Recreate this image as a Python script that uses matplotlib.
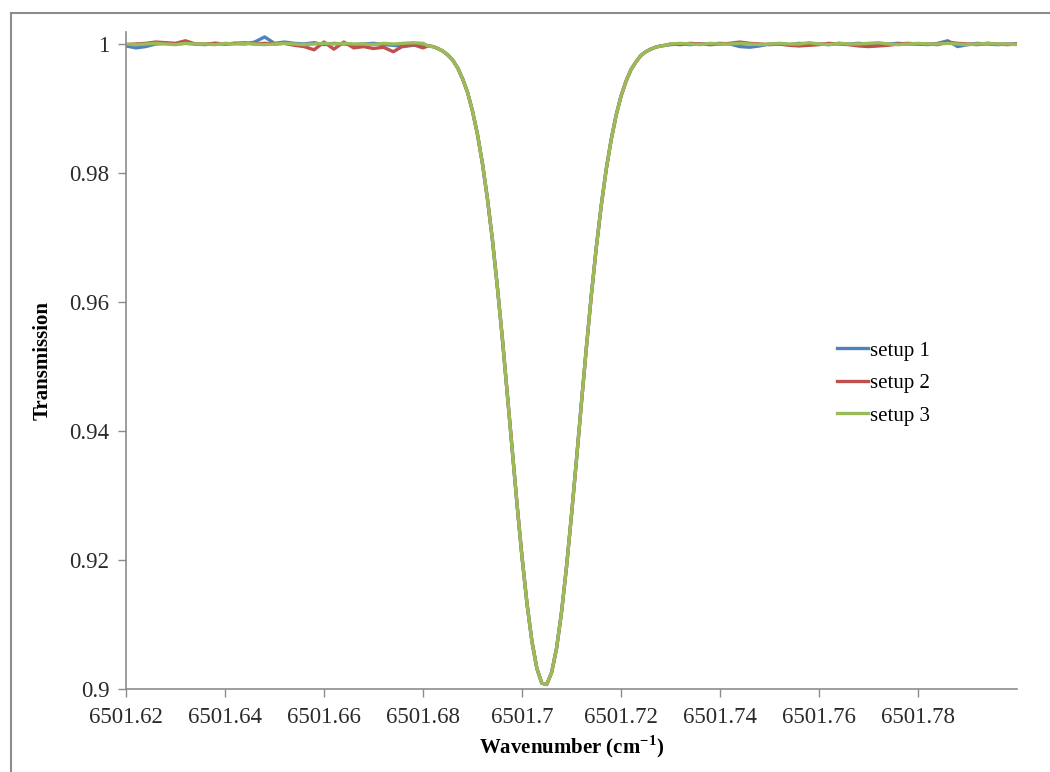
import matplotlib
matplotlib.use("Agg")
import matplotlib.pyplot as plt
from matplotlib.lines import Line2D

plt.rcParams['font.family'] = ['Liberation Serif', 'DejaVu Serif']
plt.rcParams['mathtext.fontset'] = 'custom'
plt.rcParams['mathtext.rm'] = 'Liberation Serif'
plt.rcParams['mathtext.bf'] = 'Liberation Serif:bold'

# wavenumber grids (cm^-1)
left_x = [6501.620, 6501.622, 6501.624, 6501.626, 6501.628, 6501.630, 6501.632, 6501.634,
          6501.636, 6501.638, 6501.640, 6501.642, 6501.644, 6501.646, 6501.648, 6501.650,
          6501.652, 6501.654, 6501.656, 6501.658, 6501.660, 6501.662, 6501.664, 6501.666,
          6501.668, 6501.670, 6501.672, 6501.674, 6501.676, 6501.678, 6501.680]
dip_x = [6501.681, 6501.682, 6501.683, 6501.684, 6501.685, 6501.686, 6501.687, 6501.688,
         6501.689, 6501.690, 6501.691, 6501.692, 6501.693, 6501.694, 6501.695, 6501.696,
         6501.697, 6501.698, 6501.699, 6501.700, 6501.701, 6501.702, 6501.703, 6501.704,
         6501.705, 6501.706, 6501.707, 6501.708, 6501.709, 6501.710, 6501.711, 6501.712,
         6501.713, 6501.714, 6501.715, 6501.716, 6501.717, 6501.718, 6501.719, 6501.720,
         6501.721, 6501.722, 6501.723, 6501.724, 6501.725, 6501.726, 6501.727, 6501.728,
         6501.729]
right_x = [6501.730, 6501.732, 6501.734, 6501.736, 6501.738, 6501.740, 6501.742, 6501.744,
           6501.746, 6501.748, 6501.750, 6501.752, 6501.754, 6501.756, 6501.758, 6501.760,
           6501.762, 6501.764, 6501.766, 6501.768, 6501.770, 6501.772, 6501.774, 6501.776,
           6501.778, 6501.780, 6501.782, 6501.784, 6501.786, 6501.788, 6501.790, 6501.792,
           6501.794, 6501.796, 6501.798, 6501.800]

# absorption line (all three setups overlap here)
dip_t = [0.9997, 0.9996, 0.9993, 0.9989, 0.9983, 0.9975, 0.9963, 0.9946,
         0.9925, 0.9896, 0.9860, 0.9815, 0.9761, 0.9698, 0.9625, 0.9546,
         0.9460, 0.9373, 0.9286, 0.9205, 0.9133, 0.9074, 0.9032, 0.9009,
         0.9007, 0.9026, 0.9064, 0.9120, 0.9190, 0.9270, 0.9355, 0.9443,
         0.9529, 0.9610, 0.9684, 0.9749, 0.9805, 0.9851, 0.9889, 0.9919,
         0.9942, 0.9960, 0.9972, 0.9982, 0.9988, 0.9992, 0.9995, 0.9997,
         0.9998]

# baselines left / right of the line
setup1_left = [0.9997, 0.9994, 0.9996, 1.0000, 1.0001, 1.0000, 1.0001, 1.0000,
               0.9999, 1.0001, 1.0000, 1.0001, 1.0000, 1.0003, 1.0011, 1.0001,
               1.0003, 1.0001, 1.0000, 1.0002, 0.9999, 1.0001, 1.0000, 0.9999,
               1.0000, 1.0001, 0.9999, 0.9998, 0.9996, 0.9998, 1.0000]
setup2_left = [0.9999, 1.0000, 1.0001, 1.0003, 1.0002, 1.0001, 1.0005, 1.0000,
               1.0000, 1.0001, 1.0000, 1.0001, 1.0002, 1.0000, 1.0001, 1.0000,
               1.0001, 0.9998, 0.9996, 0.9991, 1.0003, 0.9992, 1.0003, 0.9994,
               0.9996, 0.9993, 0.9995, 0.9988, 0.9997, 0.9999, 0.9994]
setup3_left = [1.0000, 0.9999, 1.0000, 1.0001, 1.0000, 0.9999, 1.0001, 1.0000,
               1.0000, 0.9999, 1.0001, 1.0000, 1.0001, 1.0000, 0.9999, 1.0000,
               1.0001, 1.0000, 0.9999, 1.0000, 1.0001, 1.0000, 1.0001, 1.0000,
               1.0000, 0.9999, 1.0001, 1.0000, 1.0001, 1.0002, 1.0001]

setup1_right = [0.9999, 1.0000, 0.9999, 1.0000, 1.0000, 1.0001, 1.0000, 0.9996,
                0.9995, 0.9997, 1.0000, 1.0000, 0.9999, 1.0001, 1.0000, 1.0000,
                0.9999, 1.0001, 1.0000, 1.0001, 1.0000, 0.9999, 1.0000, 1.0001,
                1.0000, 1.0000, 0.9999, 1.0001, 1.0005, 0.9996, 0.9999, 1.0001,
                1.0000, 0.9999, 1.0000, 1.0000]
setup2_right = [1.0000, 0.9999, 1.0001, 1.0000, 0.9999, 1.0000, 1.0001, 1.0003,
                1.0001, 1.0000, 0.9999, 1.0000, 0.9998, 0.9997, 0.9998, 0.9999,
                1.0001, 1.0000, 0.9999, 0.9997, 0.9996, 0.9997, 0.9998, 1.0000,
                1.0001, 1.0000, 1.0000, 0.9999, 1.0003, 1.0001, 1.0000, 0.9999,
                1.0001, 1.0000, 0.9999, 1.0000]
setup3_right = [1.0000, 1.0001, 1.0000, 0.9999, 1.0001, 1.0000, 1.0000, 1.0001,
                1.0000, 0.9999, 1.0000, 1.0001, 1.0000, 1.0000, 1.0002, 1.0000,
                0.9999, 1.0001, 1.0000, 1.0000, 1.0001, 1.0002, 1.0000, 0.9999,
                1.0000, 1.0001, 1.0000, 1.0000, 1.0001, 1.0000, 0.9999, 1.0000,
                1.0001, 1.0000, 1.0000, 0.9999]

labels = ["setup 1", "setup 2", "setup 3"]
colors = ["#4F81BD", "#C0504D", "#9BBB59"]

x_ticks = [6501.62, 6501.64, 6501.66, 6501.68, 6501.70, 6501.72, 6501.74, 6501.76, 6501.78]
x_ticklabels = ["6501.62", "6501.64", "6501.66", "6501.68", "6501.7",
                "6501.72", "6501.74", "6501.76", "6501.78"]
y_ticks = [0.90, 0.92, 0.94, 0.96, 0.98, 1.00]
y_ticklabels = ["0.9", "0.92", "0.94", "0.96", "0.98", "1"]

fig = plt.figure(figsize=(10.5, 7.72), dpi=100)
ax = fig.add_axes([126 / 1050, 1 - 689 / 772, (1017 - 126) / 1050, (689 - 32) / 772])

# outer chart border, only the top and left edges are inside the picture
bx, by = 10.5 / 1050, 1 - 12.5 / 772
fig.add_artist(Line2D([bx, 0.999], [by, by], transform=fig.transFigure,
                      color="#8c8c8c", lw=1.5, zorder=5))
fig.add_artist(Line2D([bx, bx], [0.0, by], transform=fig.transFigure,
                      color="#8c8c8c", lw=1.5, zorder=5))

x_all = left_x + dip_x + right_x
series = [setup1_left + dip_t + setup1_right,
          setup2_left + dip_t + setup2_right,
          setup3_left + dip_t + setup3_right]
for y, lab, col in zip(series, labels, colors):
    ax.plot(x_all, y, color=col, lw=2.4, label=lab, solid_joinstyle="round")

ax.set_xlim(6501.62, 6501.80)
ax.set_ylim(0.9, 1.00186)
ax.set_xticks(x_ticks)
ax.set_xticklabels(x_ticklabels)
ax.set_yticks(y_ticks)
ax.set_yticklabels(y_ticklabels)

for s in ["top", "right"]:
    ax.spines[s].set_visible(False)
for s in ["left", "bottom"]:
    ax.spines[s].set_color("#8c8c8c")
    ax.spines[s].set_linewidth(1.2)
ax.tick_params(axis="both", direction="out", length=6, width=1, color="#8c8c8c",
               labelsize=16.5, labelcolor="#2a2a2a")
ax.tick_params(axis="x", pad=7)
ax.tick_params(axis="y", pad=6)

ax.set_xlabel("Wavenumber (cm$^{\\mathbf{-1}}$)", fontsize=15, fontweight="bold", labelpad=4)
ax.set_ylabel("Transmission", fontsize=15, fontweight="bold", labelpad=12)

ax.legend(loc="upper left", bbox_to_anchor=(0.777, 0.558), frameon=False, fontsize=15,
          handlelength=1.5, handletextpad=0.1, labelspacing=0.62)

fig.savefig("out.png", dpi=100, facecolor="white")
